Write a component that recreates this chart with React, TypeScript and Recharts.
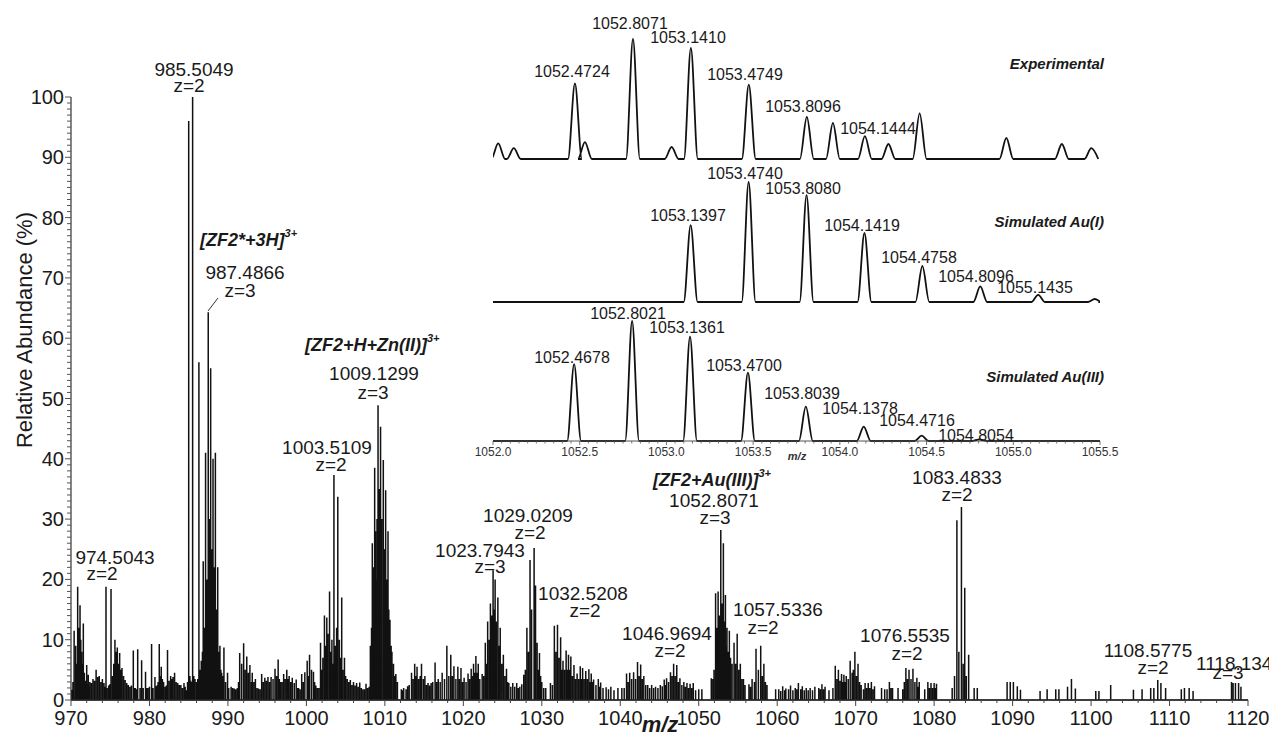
import { LineChart, Line, XAxis, YAxis } from "recharts";

const FONT = "'Liberation Sans', Arial, Helvetica, sans-serif";
const INK = "#1a1a1a";

// main spectrum, [m/z, relative abundance %] - labelled / prominent sticks
const sticks970 = [
  [970.1, 1.7], [970.4, 11.5], [970.85, 18.8], [971.15, 15.7], [971.36, 8], [971.57, 12.7], [972.0, 5.8],
  [972.2, 4.2], [972.4, 3], [972.8, 3.5], [973.2, 5], [973.6, 4], [974.0, 3.5], [974.2, 2.8], [974.46, 18.8],
  [974.8, 2.4], [975.1, 18.4], [975.6, 10], [975.9, 8.7], [976.2, 7.8], [976.5, 5.3], [976.9, 3.3], [977.3, 2.5],
  [977.7, 2.4], [977.94, 8.2], [978.2, 2], [978.5, 8.4], [979.0, 6.6], [979.5, 4.7], [979.8, 2], [980.0, 2.2],
  [980.27, 9.3], [980.7, 3.8], [981.0, 2.5], [981.25, 9.3], [981.5, 5.5], [981.8, 3], [982.0, 2.2], [982.3, 8.3],
  [982.7, 4], [983.0, 3.8], [983.2, 4.5], [983.6, 2.8], [984.0, 2.5], [984.4, 2.8], [984.7, 1.6],
];
const sticks985 = [
  [985.0, 96], [985.25, 3.2], [985.5, 100], [985.8, 3.5], [986.0, 3], [986.3, 56], [986.6, 6.5], [986.85, 23],
  [987.15, 41], [987.49, 64.3], [987.8, 55], [988.1, 40], [988.4, 41], [988.7, 22], [988.98, 9], [989.2, 4.5],
  [989.49, 8.7], [989.95, 4.5], [990.4, 2.2], [990.8, 1.9], [991.2, 2], [991.5, 7.8], [992.0, 9.4], [992.4, 7.2],
  [992.8, 5.8], [993.1, 4.5], [993.5, 3.5], [993.9, 1.9], [994.3, 4.3], [994.7, 3.7], [995.1, 3.8], [995.5, 3.8],
  [996.0, 5.2], [996.4, 6.7], [996.7, 3], [997.1, 4.3], [997.5, 5], [997.8, 4], [998.2, 3.7], [998.7, 3.4],
  [999.0, 2], [999.4, 4.3], [999.8, 4.6],
];
const sticks1000 = [
  [1000.1, 6.5], [1000.4, 7.5], [1000.9, 4.7], [1001.2, 2.4], [1001.6, 2], [1001.8, 9.5], [1002.3, 14],
  [1002.6, 13.7], [1002.95, 18], [1003.25, 10], [1003.51, 37.3], [1004.0, 33.7], [1004.5, 17], [1004.85, 7],
  [1005.2, 3.5], [1005.6, 3.3], [1006.0, 3], [1006.4, 2.8], [1006.8, 2.9], [1007.2, 1.8], [1007.6, 2.7],
  [1008.0, 2.2], [1008.15, 9], [1008.4, 26], [1008.7, 38.5], [1008.9, 20], [1009.13, 48.9], [1009.45, 45.3],
  [1009.8, 39.8], [1010.1, 34.8], [1010.4, 28], [1010.65, 13.3], [1010.9, 8], [1011.1, 6], [1011.4, 4.3],
  [1012.1, 1.8], [1012.4, 2], [1012.9, 2.3], [1013.4, 4.5], [1013.8, 6], [1014.1, 5.5], [1014.67, 6],
];
const sticks1015 = [
  [1015.1, 4], [1015.5, 2.8], [1015.9, 2.8], [1016.4, 6.2], [1016.8, 3.5], [1017.3, 4.5], [1017.9, 9],
  [1018.4, 7.5], [1018.8, 5.6], [1019.3, 5.5], [1019.7, 5.3], [1020.1, 3.7], [1020.6, 4.4], [1021.0, 5.2],
  [1021.3, 6], [1021.6, 7.3], [1021.9, 6], [1022.4, 4.3], [1022.8, 9.5], [1023.1, 13], [1023.45, 16],
  [1023.79, 21.5], [1024.05, 20], [1024.4, 17], [1024.7, 12], [1025.1, 7.5], [1025.5, 5.2], [1025.8, 2.8],
  [1026.3, 2.8], [1026.8, 2.8], [1027.2, 2.2], [1027.7, 4.2], [1028.1, 12], [1028.5, 23.2], [1029.02, 25.2],
  [1029.2, 19], [1029.4, 9.5], [1029.7, 7.8], [1030.0, 3], [1030.5, 2], [1031.1, 2.8], [1031.6, 12.3],
  [1032.0, 12.5], [1032.4, 10.4], [1032.7, 6.5], [1033.1, 8.2], [1033.4, 7.5], [1033.7, 7.2], [1034.1, 5.8],
  [1034.5, 4.4], [1034.9, 5.6], [1035.2, 5.3], [1035.6, 4.8], [1036.0, 5.1], [1036.3, 4.4], [1036.6, 3.4],
  [1037.2, 3.5], [1037.5, 2.9], [1038.2, 2.1], [1038.8, 2.2], [1039.7, 2],
];
const sticks1040 = [
  [1040.2, 2], [1040.8, 4.4], [1041.2, 4.5], [1041.7, 4.6], [1042.2, 6.3], [1042.6, 5.9], [1043.0, 4],
  [1043.5, 2.5], [1044.0, 2.5], [1044.5, 2.2], [1045.1, 2.5], [1045.6, 3.4], [1045.9, 3.6], [1046.4, 4.6],
  [1046.8, 6], [1047.2, 5.8], [1047.6, 3.6], [1048.1, 3], [1048.5, 2.8], [1048.9, 2.7], [1049.3, 2.8],
  [1050.0, 1.8], [1050.4, 1.8], [1051.6, 3.6], [1051.8, 3.5], [1052.15, 17.7], [1052.47, 18], [1052.81, 28.2],
  [1053.14, 26], [1053.4, 17.4], [1053.6, 12], [1053.9, 11.5], [1054.5, 9.5], [1054.9, 11], [1055.3, 6],
  [1055.7, 3.5], [1056.4, 2.6], [1056.8, 3.5], [1057.3, 8.5], [1057.9, 9], [1058.3, 6], [1058.7, 2.5],
  [1059.8, 1.8], [1060.2, 1.8], [1060.7, 2.3], [1061.1, 1.9], [1061.7, 2.4], [1062.3, 2], [1062.7, 2.8],
  [1063.2, 2.3], [1063.7, 2], [1064.2, 2], [1064.8, 2.2],
];
const sticks1065 = [
  [1065.3, 2], [1065.7, 2.6], [1066.1, 2.2], [1066.6, 1.6], [1067.4, 5.7], [1067.8, 5], [1068.2, 4.3],
  [1068.5, 4.2], [1068.8, 4], [1069.3, 6.5], [1069.9, 8], [1070.3, 6], [1070.7, 2.5], [1071.2, 2.8],
  [1071.6, 2.8], [1072.0, 3], [1072.4, 2.3], [1073.3, 2], [1073.7, 1.8], [1074.3, 3], [1074.7, 2], [1075.4, 2],
  [1076.0, 1.8], [1076.4, 5.3], [1076.8, 5], [1077.3, 5.2], [1077.8, 3.7], [1078.1, 3], [1078.8, 1.8],
  [1079.2, 3], [1079.6, 2.8], [1080.0, 2.8], [1080.3, 2.7], [1082.3, 2], [1082.9, 29.8], [1083.48, 32],
  [1083.9, 18.6], [1084.4, 7.5], [1085.1, 2], [1085.5, 2], [1089.3, 3], [1089.7, 3], [1090.1, 3], [1090.6, 2.3],
  [1091.0, 1.7], [1093.5, 1.5], [1094.4, 1.8], [1095.5, 1.8], [1095.9, 1.8], [1097.0, 2.2], [1097.5, 3.5],
  [1098.0, 1.9], [1100.6, 1.5], [1101.0, 1.5], [1102.5, 2.5], [1105.4, 1.7], [1106.5, 1.8], [1107.6, 2],
  [1108.0, 2], [1108.5, 3.3], [1108.9, 2.8], [1109.5, 2], [1111.5, 1.8], [1111.9, 2], [1112.5, 2], [1113.0, 1.5],
  [1117.9, 3], [1118.1, 2.8], [1118.4, 2.8], [1118.8, 2.8], [1119.1, 2.2],
];

// the dense low-level sticks that fill in between
const fill970 = [
  [970.25, 3], [970.6, 9], [970.7, 6], [971.0, 12], [971.25, 10], [971.45, 6], [971.7, 4.5], [971.85, 3.2],
  [972.1, 2.6], [972.3, 2.2], [972.6, 2.8], [973.0, 3.2], [973.4, 3.8], [973.8, 3], [974.3, 2.2], [974.6, 2],
  [974.95, 2.6], [975.3, 4], [975.45, 6], [975.75, 8], [976.05, 6], [976.35, 5], [976.7, 4], [977.1, 2.8],
  [977.5, 2.2], [978.05, 2], [978.35, 1.8], [978.8, 2], [979.2, 2], [979.65, 2], [980.45, 2], [980.85, 2.3],
  [981.1, 3], [981.4, 4], [981.65, 3.5], [982.15, 2.4], [982.5, 3.2], [982.85, 3.5], [983.4, 3], [983.8, 2.5],
  [984.2, 2], [984.55, 2.2], [984.85, 3],
];
const fill985 = [
  [985.15, 4], [985.35, 3], [985.65, 4], [986.15, 3.5], [986.45, 5], [986.75, 8], [987.0, 12], [987.3, 20],
  [987.65, 30], [987.95, 25], [988.25, 22], [988.55, 15], [988.85, 8], [989.1, 5], [989.35, 4], [989.7, 3],
  [990.1, 2], [990.6, 2], [991.0, 1.8], [991.35, 3], [991.75, 6], [992.2, 5], [992.6, 4.5], [993.0, 3],
  [993.3, 3], [993.7, 2], [994.1, 1.8], [994.5, 3], [994.9, 3.2], [995.3, 3], [995.75, 3.5], [996.2, 4],
  [996.55, 3.5], [996.9, 3], [997.3, 3.5], [997.65, 3.5], [998.0, 3], [998.45, 2.8], [998.9, 2], [999.2, 1.8],
  [999.6, 3],
];
const fill1000 = [
  [1000.25, 4], [1000.65, 5], [1001.05, 3], [1001.4, 2], [1001.95, 5], [1002.1, 7], [1002.45, 9], [1002.75, 11],
  [1003.1, 8], [1003.35, 6], [1003.7, 9], [1003.85, 12], [1004.2, 10], [1004.35, 7], [1004.65, 5], [1005.0, 4],
  [1005.4, 3], [1005.8, 2.5], [1006.2, 2.4], [1006.6, 2.2], [1007.0, 2], [1007.4, 1.8], [1007.8, 2],
  [1008.3, 12], [1008.55, 22], [1008.8, 28], [1009.0, 30], [1009.3, 35], [1009.6, 30], [1009.95, 25],
  [1010.25, 20], [1010.5, 15], [1010.8, 9], [1011.25, 4], [1011.6, 3], [1012.25, 1.6], [1012.7, 1.8],
  [1013.1, 2.5], [1013.6, 3.5], [1013.95, 4], [1014.3, 3.5], [1014.5, 4],
];
const fill1015 = [
  [1014.9, 3.5], [1015.3, 2.5], [1015.7, 2.4], [1016.1, 3], [1016.6, 3], [1017.05, 3], [1017.6, 3.5],
  [1018.15, 4], [1018.6, 4], [1019.05, 3.5], [1019.5, 3.5], [1019.9, 3], [1020.35, 3], [1020.8, 3.5],
  [1021.15, 4], [1021.45, 4.5], [1021.75, 4.5], [1022.1, 3.5], [1022.6, 4], [1022.95, 6], [1023.3, 10],
  [1023.6, 14], [1023.9, 15], [1024.2, 13], [1024.55, 9], [1024.9, 6], [1025.3, 4], [1025.65, 3], [1026.05, 2.2],
  [1026.55, 2.2], [1027.0, 2], [1027.45, 2.6], [1027.9, 5], [1028.3, 8], [1028.7, 15], [1029.55, 5],
  [1029.85, 4], [1030.25, 2], [1031.35, 2.5], [1031.8, 8], [1032.2, 7], [1032.55, 5], [1032.9, 5],
  [1033.25, 5], [1033.55, 5], [1033.9, 4], [1034.3, 3.5], [1034.7, 3.5], [1035.05, 3.5], [1035.4, 3.5],
  [1035.8, 3.5], [1036.15, 3], [1036.45, 3], [1036.9, 2.5], [1037.35, 2.2], [1037.8, 2], [1038.5, 1.8],
  [1039.2, 1.6],
];
const fill1040 = [
  [1040.5, 2], [1041.0, 3], [1041.45, 3.5], [1041.95, 3.5], [1042.4, 4], [1042.8, 3.5], [1043.25, 2.5],
  [1043.75, 2], [1044.25, 2], [1044.8, 2], [1045.35, 2.3], [1045.75, 2.5], [1046.15, 3], [1046.6, 4],
  [1047.0, 4], [1047.4, 3], [1047.85, 2.5], [1048.3, 2.2], [1048.7, 2], [1049.1, 2], [1049.6, 1.6],
  [1051.95, 5], [1052.3, 12], [1052.65, 14], [1052.95, 16], [1053.25, 13], [1053.5, 9], [1053.75, 8],
  [1054.05, 7], [1054.25, 6], [1054.7, 6], [1055.1, 5], [1055.5, 3.5], [1055.9, 2.5], [1056.6, 2.2],
  [1057.1, 3], [1057.6, 5], [1058.1, 4], [1058.5, 3], [1060.45, 1.5], [1060.95, 1.6], [1061.45, 1.8],
  [1062.0, 1.6], [1062.5, 1.8], [1063.0, 1.8], [1063.45, 1.6], [1063.95, 1.6], [1064.5, 1.6],
];
const fill1065 = [
  [1065.5, 1.8], [1065.9, 1.8], [1067.1, 2], [1067.6, 3.5], [1068.0, 3.2], [1068.35, 3], [1068.65, 3],
  [1069.05, 3.5], [1069.55, 4.5], [1069.7, 5], [1070.1, 4], [1070.5, 3], [1071.0, 1.8], [1071.4, 2],
  [1071.8, 2], [1072.2, 1.8], [1074.0, 1.8], [1074.5, 2], [1076.2, 3], [1076.6, 3.5], [1077.05, 3.5],
  [1077.55, 3], [1077.95, 2.2], [1079.4, 2], [1079.8, 2], [1080.15, 2], [1082.6, 4], [1083.15, 8],
  [1083.7, 6], [1084.1, 4],
];

const mainXTicks = [970, 980, 990, 1000, 1010, 1020, 1030, 1040, 1050, 1060, 1070, 1080, 1090, 1100, 1110, 1120];
const mainYTicks = [0, 10, 20, 30, 40, 50, 60, 70, 80, 90, 100];

// inset isotope patterns, [m/z, height relative to the tallest peak]
const experimentalPeaks = [
  [1052.03, 13], [1052.12, 9], [1052.4724, 63], [1052.53, 14], [1052.8071, 100], [1053.03, 10], [1053.141, 92.5],
  [1053.4749, 62], [1053.8096, 35], [1053.96, 30], [1054.1444, 19], [1054.28, 12.5], [1054.46, 38], [1054.96, 17.5],
  [1055.28, 12.5], [1055.45, 9],
];
const simAuIPeaks = [
  [1053.1397, 64], [1053.474, 100], [1053.808, 89], [1054.1419, 57.5], [1054.4758, 30], [1054.8096, 13],
  [1055.1435, 6], [1055.47, 2.5],
];
const simAuIIIPeaks = [
  [1052.4678, 64], [1052.8021, 100], [1053.1361, 87], [1053.47, 57], [1053.8039, 28.6], [1054.1378, 12],
  [1054.4716, 4.5], [1054.8054, 1.3],
];
const insetMajorTicks = [1052.0, 1052.5, 1053.0, 1053.5, 1054.0, 1054.5, 1055.0, 1055.5];

// stick spectrum as one polyline: baseline -> top -> baseline at every m/z
const sticks = [
  ...sticks970, ...sticks985, ...sticks1000, ...sticks1015, ...sticks1040, ...sticks1065,
  ...fill970, ...fill985, ...fill1000, ...fill1015, ...fill1040, ...fill1065,
].sort((a, b) => a[0] - b[0]);
const mainData: { mz: number; ab: number }[] = [{ mz: 970, ab: 0 }];
sticks.forEach(([mz, ab]) => {
  mainData.push({ mz, ab: 0 }, { mz, ab }, { mz, ab: 0 });
});
mainData.push({ mz: 1120, ab: 0 });

const PEAK_HALF = 0.04;
const profile = (peaks: number[][], start: number, end: number) => {
  const pts = [{ mz: start, y: 0 }];
  peaks.forEach(([mz, h]) => {
    pts.push({ mz: mz - PEAK_HALF, y: 0 }, { mz, y: h }, { mz: mz + PEAK_HALF, y: 0 });
  });
  pts.push({ mz: end, y: 0 });
  return pts.filter((p) => p.mz >= start - 1e-9);
};

const mainMinorX: number[] = [];
for (let v = 970; v <= 1120; v += 2) mainMinorX.push(v);
const mainMinorY: number[] = [];
for (let v = 0; v <= 100; v += 1) mainMinorY.push(v);
const insetMinor: number[] = [];
for (let i = 0; i <= 70; i++) insetMinor.push(Math.round((1052 + i * 0.05) * 100) / 100);

const MainXTick = ({ x, y, payload }: any) => {
  const v = payload.value;
  const major = mainXTicks.includes(v);
  return (
    <g>
      <line x1={x} y1={y} x2={x} y2={y + (major ? 6 : 3)} stroke="#444" strokeWidth={1} />
      {major && (
        <text x={x} y={y + 18} textAnchor="middle" dominantBaseline="central" fontSize={20} fill={INK} fontFamily={FONT}>
          {v}
        </text>
      )}
    </g>
  );
};

const MainYTick = ({ x, y, payload }: any) => {
  const v = payload.value;
  const major = mainYTicks.includes(v);
  return (
    <g>
      <line x1={x} y1={y} x2={x - (major ? 6 : 4)} y2={y} stroke="#555" strokeWidth={1} />
      {major && (
        <text x={x - 7} y={y} textAnchor="end" dominantBaseline="central" fontSize={20} fill={INK} fontFamily={FONT}>
          {v}
        </text>
      )}
    </g>
  );
};

const InsetTick = ({ x, y, payload }: any) => {
  const v = payload.value;
  const major = insetMajorTicks.some((t) => Math.abs(t - v) < 1e-6);
  return (
    <g>
      <line x1={x} y1={y} x2={x} y2={y + (major ? 4 : 2.5)} stroke="#555" strokeWidth={0.8} />
      {major && (
        <text x={x} y={y + 11} textAnchor="middle" dominantBaseline="central" fontSize={12} fill="#333" fontFamily={FONT}>
          {v.toFixed(1)}
        </text>
      )}
    </g>
  );
};

const Inset = ({ peaks, top, end, axis }: { peaks: number[][]; top: number; end: number; axis?: boolean }) => (
  <div style={{ position: "absolute", left: 463, top }}>
    <LineChart
      width={660}
      height={axis ? 155 : 140}
      data={profile(peaks, 1051.985, end)}
      margin={{ top: 10, right: 23, left: 30, bottom: axis ? 0 : 10 }}
    >
      <XAxis
        dataKey="mz"
        type="number"
        domain={[1052, 1055.5]}
        allowDataOverflow
        hide={!axis}
        ticks={insetMinor}
        interval={0}
        height={25}
        tickSize={0}
        tickMargin={0}
        tickLine={false}
        axisLine={{ stroke: "#555", strokeWidth: 1 }}
        tick={<InsetTick />}
      />
      <YAxis hide domain={[0, 100]} />
      <Line
        type="monotone"
        dataKey="y"
        stroke="#111"
        strokeWidth={1.8}
        dot={false}
        isAnimationActive={false}
      />
    </LineChart>
  </div>
);

type Note = { t: string; x: number; y: number; sup?: string; anchor?: string };

const mainNotes: Note[] = [
  { t: "985.5049", x: 194, y: 69 }, { t: "z=2", x: 189, y: 85 },
  { t: "987.4866", x: 245, y: 272 }, { t: "z=3", x: 240, y: 290 },
  { t: "1009.1299", x: 374, y: 373 }, { t: "z=3", x: 373, y: 392 },
  { t: "1003.5109", x: 327, y: 447 }, { t: "z=2", x: 331, y: 464 },
  { t: "1029.0209", x: 528, y: 515 }, { t: "z=2", x: 530, y: 532 },
  { t: "1023.7943", x: 480, y: 550 }, { t: "z=3", x: 490, y: 566 },
  { t: "1032.5208", x: 583, y: 593 }, { t: "z=2", x: 585, y: 610 },
  { t: "1052.8071", x: 714, y: 500 }, { t: "z=3", x: 715, y: 517 },
  { t: "1083.4833", x: 957, y: 477 }, { t: "z=2", x: 957, y: 494 },
  { t: "1057.5336", x: 778, y: 609 }, { t: "z=2", x: 763, y: 627 },
  { t: "1046.9694", x: 667, y: 633 }, { t: "z=2", x: 670, y: 650 },
  { t: "1076.5535", x: 905, y: 635 }, { t: "z=2", x: 907, y: 653 },
  { t: "1108.5775", x: 1148, y: 650 }, { t: "z=2", x: 1153, y: 667 },
  { t: "1118.1342", x: 1196, y: 663, anchor: "start" }, { t: "z=3", x: 1228, y: 672 },
  { t: "974.5043", x: 115, y: 557 }, { t: "z=2", x: 102, y: 573 },
];

const ionNotes: Note[] = [
  { t: "[ZF2*+3H]", sup: "3+", x: 200, y: 240 },
  { t: "[ZF2+H+Zn(II)]", sup: "3+", x: 305, y: 345 },
  { t: "[ZF2+Au(III)]", sup: "3+", x: 653, y: 480 },
];

const insetNotes: Note[] = [
  { t: "1052.4724", x: 572, y: 71 }, { t: "1052.8071", x: 630, y: 23 }, { t: "1053.1410", x: 688, y: 37 },
  { t: "1053.4749", x: 745, y: 74 }, { t: "1053.8096", x: 803, y: 106 }, { t: "1054.1444", x: 878, y: 128 },
  { t: "1053.4740", x: 745, y: 173 }, { t: "1053.8080", x: 803, y: 188 }, { t: "1053.1397", x: 688, y: 215 },
  { t: "1054.1419", x: 862, y: 225 }, { t: "1054.4758", x: 919, y: 257 }, { t: "1054.8096", x: 976, y: 276 },
  { t: "1055.1435", x: 1035, y: 287 },
  { t: "1052.8021", x: 628, y: 313 }, { t: "1053.1361", x: 687, y: 327 }, { t: "1052.4678", x: 572, y: 357 },
  { t: "1053.4700", x: 744, y: 365 }, { t: "1053.8039", x: 802, y: 393 }, { t: "1054.1378", x: 860, y: 408 },
  { t: "1054.4716", x: 917, y: 420 }, { t: "1054.8054", x: 976, y: 435 },
];

const panelNotes: Note[] = [
  { t: "Experimental", x: 1104, y: 63 },
  { t: "Simulated Au(I)", x: 1104, y: 221 },
  { t: "Simulated Au(III)", x: 1104, y: 376 },
];

export default function App() {
  return (
    <div style={{ position: "absolute", left: 0, top: 0, width: 1269, height: 735, background: "#fff", overflow: "hidden" }}>
      <LineChart width={1269} height={735} data={mainData} margin={{ top: 97, right: 21, left: 11, bottom: 5 }}>
        <XAxis
          dataKey="mz"
          type="number"
          domain={[970, 1120]}
          allowDataOverflow
          ticks={mainMinorX}
          interval={0}
          height={30}
          tickSize={0}
          tickMargin={0}
          tickLine={false}
          axisLine={{ stroke: "#333", strokeWidth: 1.2 }}
          tick={<MainXTick />}
        />
        <YAxis
          type="number"
          domain={[0, 100]}
          ticks={mainMinorY}
          interval={0}
          width={60}
          tickSize={0}
          tickMargin={0}
          tickLine={false}
          axisLine={{ stroke: "#333", strokeWidth: 1.2 }}
          tick={<MainYTick />}
        />
        <Line
          type="linear"
          dataKey="ab"
          stroke="#111"
          strokeWidth={1.5}
          strokeLinejoin="bevel"
          dot={false}
          isAnimationActive={false}
        />
      </LineChart>

      <Inset peaks={experimentalPeaks} top={29} end={1055.49} />
      <Inset peaks={simAuIPeaks} top={172} end={1055.49} />
      <Inset peaks={simAuIIIPeaks} top={311} end={1055.5} axis />

      <svg width={1269} height={735} style={{ position: "absolute", left: 0, top: 0, pointerEvents: "none" }} fontFamily={FONT}>
        <text
          transform="translate(24,330) rotate(-90)"
          textAnchor="middle"
          dominantBaseline="central"
          fontSize={22}
          fill={INK}
        >
          Relative Abundance (%)
        </text>
        <text x={660} y={724} textAnchor="middle" dominantBaseline="central" fontSize={22} fontWeight="bold" fontStyle="italic" fill={INK}>
          m/z
        </text>
        <text x={797} y={456} textAnchor="middle" dominantBaseline="central" fontSize={11} fontWeight="bold" fontStyle="italic" fill="#333">
          m/z
        </text>
        <line x1={208} y1={311} x2={218} y2={298} stroke="#333" strokeWidth={1} />
        {mainNotes.map((n, i) => (
          <text key={"m" + i} x={n.x} y={n.y} textAnchor={n.anchor ?? "middle"} dominantBaseline="central" fontSize={19} fill={INK}>
            {n.t}
          </text>
        ))}
        {ionNotes.map((n, i) => (
          <text key={"i" + i} x={n.x} y={n.y} textAnchor="start" dominantBaseline="central" fontSize={18} fontWeight="bold" fontStyle="italic" fill={INK}>
            {n.t}
            <tspan fontSize={11} dy={-7}>{n.sup}</tspan>
          </text>
        ))}
        {insetNotes.map((n, i) => (
          <text key={"n" + i} x={n.x} y={n.y} textAnchor="middle" dominantBaseline="central" fontSize={16} fill={INK}>
            {n.t}
          </text>
        ))}
        {panelNotes.map((n, i) => (
          <text key={"p" + i} x={n.x} y={n.y} textAnchor="end" dominantBaseline="central" fontSize={15} fontWeight="bold" fontStyle="italic" fill={INK}>
            {n.t}
          </text>
        ))}
      </svg>
    </div>
  );
}
